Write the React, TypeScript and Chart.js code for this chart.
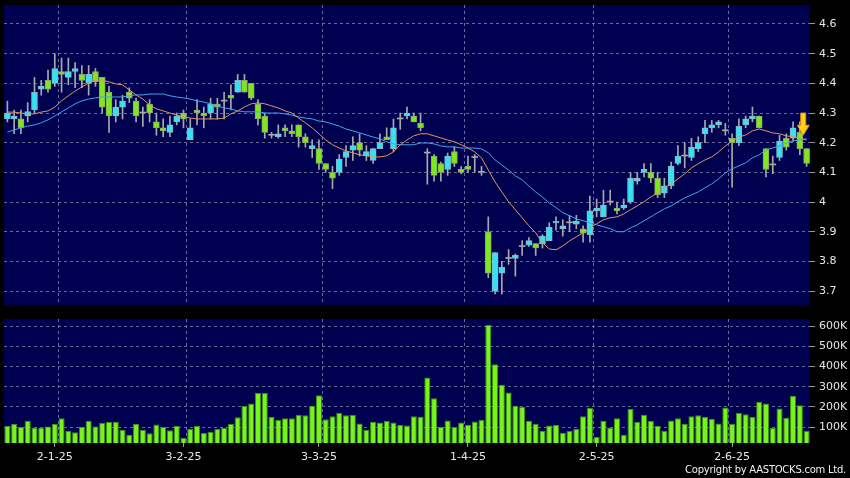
import React, { useEffect, useRef } from "react";
import { Chart, registerables } from "chart.js";
Chart.register(...registerables);

// ---- data ----
const openP = [4.28,4.28,4.28,4.29,4.31,4.38,4.41,4.40,4.44,4.42,4.44,4.43,4.40,4.44,4.42,4.37,4.29,4.32,4.37,4.34,4.30,4.33,4.27,4.25,4.235,4.27,4.30,4.21,4.31,4.30,4.30,4.33,4.34,4.36,4.37,4.41,4.40,4.33,4.29,4.225,4.22,4.25,4.24,4.26,4.22,4.18,4.18,4.13,4.10,4.10,4.15,4.175,4.20,4.155,4.14,4.18,4.22,4.18,4.28,4.29,4.29,4.265,4.165,4.155,4.13,4.11,4.17,4.11,4.12,4.15,4.10,3.90,3.70,3.76,3.81,3.81,3.85,3.855,3.86,3.86,3.87,3.93,3.91,3.93,3.925,3.91,3.89,3.97,3.95,4.00,3.98,3.98,4.00,4.07,4.10,4.10,4.08,4.03,4.055,4.13,4.155,4.15,4.18,4.23,4.25,4.26,4.24,4.215,4.20,4.26,4.28,4.29,4.18,4.125,4.15,4.215,4.215,4.235,4.18];
const highP = [4.34,4.31,4.31,4.335,4.42,4.41,4.445,4.50,4.485,4.485,4.47,4.46,4.46,4.45,4.42,4.39,4.345,4.36,4.385,4.35,4.32,4.345,4.30,4.28,4.29,4.30,4.31,4.28,4.345,4.32,4.35,4.35,4.37,4.395,4.43,4.43,4.40,4.345,4.30,4.235,4.26,4.26,4.26,4.26,4.23,4.21,4.21,4.13,4.12,4.16,4.19,4.22,4.23,4.19,4.18,4.23,4.25,4.28,4.30,4.32,4.30,4.30,4.18,4.16,4.135,4.165,4.185,4.12,4.155,4.16,4.12,3.95,3.83,3.80,3.84,3.825,3.87,3.88,3.86,3.89,3.93,3.95,3.94,3.955,3.955,3.92,4.02,4.01,4.04,4.04,4.00,4.01,4.10,4.10,4.13,4.13,4.10,4.08,4.135,4.19,4.20,4.215,4.22,4.275,4.275,4.275,4.265,4.23,4.28,4.29,4.32,4.29,4.18,4.155,4.225,4.23,4.27,4.27,4.18];
const lowP = [4.27,4.23,4.23,4.27,4.30,4.36,4.37,4.39,4.37,4.395,4.385,4.385,4.36,4.39,4.30,4.235,4.27,4.28,4.335,4.27,4.255,4.27,4.225,4.22,4.22,4.26,4.25,4.21,4.26,4.25,4.28,4.28,4.28,4.31,4.37,4.37,4.345,4.26,4.215,4.215,4.215,4.22,4.22,4.185,4.185,4.15,4.11,4.10,4.045,4.09,4.12,4.14,4.155,4.14,4.13,4.18,4.21,4.17,4.245,4.28,4.27,4.24,4.06,4.07,4.07,4.09,4.12,4.095,4.10,4.10,4.09,3.745,3.69,3.69,3.79,3.75,3.82,3.85,3.82,3.845,3.87,3.905,3.885,3.90,3.91,3.865,3.865,3.95,3.95,3.99,3.96,3.975,3.995,4.06,4.085,4.065,4.015,4.015,4.045,4.125,4.115,4.14,4.17,4.20,4.235,4.25,4.225,4.05,4.19,4.25,4.27,4.25,4.085,4.095,4.14,4.175,4.205,4.16,4.12];
const closeP = [4.30,4.29,4.25,4.305,4.37,4.39,4.38,4.45,4.43,4.44,4.45,4.41,4.43,4.405,4.32,4.29,4.32,4.34,4.35,4.29,4.30,4.30,4.25,4.24,4.26,4.29,4.28,4.25,4.30,4.29,4.33,4.32,4.34,4.35,4.41,4.37,4.35,4.28,4.235,4.225,4.23,4.24,4.23,4.22,4.20,4.19,4.13,4.11,4.08,4.145,4.17,4.19,4.175,4.17,4.18,4.20,4.21,4.25,4.28,4.30,4.27,4.25,4.165,4.09,4.10,4.155,4.13,4.10,4.11,4.15,4.10,3.76,3.83,3.78,3.81,3.82,3.85,3.87,3.845,3.885,3.915,3.935,3.92,3.93,3.935,3.895,3.97,3.98,3.99,4.00,3.97,3.99,4.08,4.08,4.11,4.08,4.025,4.055,4.12,4.155,4.155,4.185,4.20,4.25,4.26,4.27,4.24,4.20,4.255,4.28,4.29,4.25,4.11,4.125,4.205,4.185,4.25,4.18,4.13];
const maFast = [4.303,4.303,4.300,4.297,4.297,4.303,4.307,4.320,4.341,4.358,4.374,4.388,4.401,4.411,4.411,4.405,4.398,4.395,4.378,4.361,4.347,4.327,4.314,4.307,4.300,4.293,4.287,4.283,4.280,4.280,4.280,4.280,4.283,4.297,4.307,4.320,4.331,4.334,4.331,4.324,4.317,4.307,4.300,4.283,4.267,4.250,4.230,4.209,4.193,4.182,4.172,4.166,4.159,4.156,4.152,4.152,4.156,4.169,4.193,4.209,4.223,4.230,4.230,4.223,4.216,4.209,4.203,4.193,4.182,4.169,4.149,4.108,4.068,4.034,4.001,3.974,3.947,3.920,3.896,3.863,3.842,3.839,3.852,3.869,3.883,3.896,3.913,3.927,3.940,3.947,3.950,3.960,3.974,3.987,4.001,4.017,4.031,4.048,4.061,4.078,4.095,4.115,4.129,4.142,4.152,4.169,4.189,4.206,4.219,4.226,4.240,4.246,4.240,4.233,4.230,4.223,4.220,4.216,4.209];
const maSlow = [4.236,4.243,4.250,4.256,4.260,4.267,4.277,4.290,4.304,4.317,4.331,4.341,4.347,4.351,4.354,4.354,4.354,4.354,4.358,4.361,4.361,4.364,4.364,4.364,4.358,4.354,4.351,4.347,4.341,4.337,4.331,4.324,4.317,4.314,4.307,4.304,4.304,4.304,4.300,4.300,4.300,4.297,4.293,4.287,4.283,4.280,4.273,4.270,4.263,4.256,4.246,4.240,4.233,4.226,4.219,4.213,4.203,4.196,4.193,4.193,4.193,4.199,4.199,4.196,4.189,4.186,4.186,4.182,4.182,4.182,4.179,4.166,4.142,4.125,4.108,4.088,4.075,4.054,4.034,4.017,3.997,3.981,3.964,3.954,3.943,3.937,3.930,3.923,3.917,3.910,3.900,3.900,3.913,3.923,3.937,3.950,3.964,3.977,3.987,4.001,4.014,4.024,4.034,4.048,4.061,4.078,4.098,4.112,4.122,4.132,4.149,4.159,4.176,4.182,4.189,4.199,4.206,4.209,4.213];
const volumeK = [107,116,100,131,98,98,103,115,143,82,74,102,131,103,120,125,126,85,62,116,85,69,112,100,84,107,47,92,105,70,77,90,95,115,148,204,217,269,269,151,135,144,143,161,158,205,258,138,154,171,158,160,118,87,126,123,130,123,110,108,153,151,345,243,100,133,100,123,110,128,135,605,411,309,271,205,200,131,116,82,108,110,72,80,90,154,194,51,131,98,143,62,189,125,161,130,107,82,133,144,116,153,158,150,140,118,197,116,169,163,150,225,217,95,192,146,255,208,82];
const priceTicks = [3.7, 3.8, 3.9, 4.0, 4.1, 4.2, 4.3, 4.4, 4.5, 4.6];
const volumeTicksK = [100, 200, 300, 400, 500, 600];
const dateTickIndex = [7, 26, 46, 68, 87, 107];
const dateTickLabels = ["2-1-25", "3-2-25", "3-3-25", "1-4-25", "2-5-25", "2-6-25"];
const monthGridIndex = [8, 27, 47, 68, 87, 107];
const arrowBarIndex = 117;
const arrowTopPrice = 4.30;
const arrowTipPrice = 4.225;

const NAVY = "#000050";
const GRID = "rgba(140,140,175,0.75)";
const UP = "#33e3f2";
const DOWN = "#80e620";
const WICK = "#a8a8a8";
const TXT = "#e6e6e6";
const FONT = { family: "DejaVu Sans", size: 11 };

const labels = openP.map((_, i) => String(i));

const bgPlugin = {
  id: "navyBg",
  beforeDraw(chart: any) {
    const { ctx, chartArea: a } = chart;
    ctx.save();
    ctx.fillStyle = NAVY;
    ctx.fillRect(a.left, a.top, a.width, a.height);
    ctx.restore();
  },
};

const arrowPlugin = {
  id: "arrow",
  afterDatasetsDraw(chart: any) {
    const { ctx } = chart;
    const xs = chart.scales.x;
    const ys = chart.scales.y;
    const cx = (xs.getPixelForValue(arrowBarIndex) + xs.getPixelForValue(arrowBarIndex + 1)) / 2;
    const top = ys.getPixelForValue(arrowTopPrice);
    const tip = ys.getPixelForValue(arrowTipPrice);
    const headH = (tip - top) * 0.45;
    ctx.save();
    ctx.beginPath();
    ctx.moveTo(cx - 2.5, top);
    ctx.lineTo(cx + 2.5, top);
    ctx.lineTo(cx + 2.5, tip - headH);
    ctx.lineTo(cx + 6, tip - headH);
    ctx.lineTo(cx, tip);
    ctx.lineTo(cx - 6, tip - headH);
    ctx.lineTo(cx - 2.5, tip - headH);
    ctx.closePath();
    ctx.fillStyle = "#ffd21a";
    ctx.fill();
    ctx.strokeStyle = "#e08a00";
    ctx.lineWidth = 1;
    ctx.stroke();
    ctx.restore();
  },
};

const zeroPad = (ax: any) => {
  ax.paddingTop = 0;
  ax.paddingBottom = 0;
  ax.paddingLeft = 0;
  ax.paddingRight = 0;
};

function gridX() {
  return {
    offset: true,
    grid: {
      offset: true,
      drawTicks: false,
      color: (c: any) => (monthGridIndex.includes(c.index) ? GRID : "transparent"),
    },
    ticks: { display: false, autoSkip: false },
    border: { display: false, dash: [3, 3] },
    afterFit: (ax: any) => { ax.height = 0; zeroPad(ax); },
  };
}

export default function App() {
  const priceRef = useRef<HTMLCanvasElement>(null);
  const volRef = useRef<HTMLCanvasElement>(null);

  useEffect(() => {
    const isUp = (i: number) => closeP[i] > openP[i];
    const isDoji = (i: number) => closeP[i] === openP[i];
    const price = new Chart(priceRef.current!, {
      type: "bar",
      data: {
        labels,
        datasets: [
          { type: "line", data: maFast, borderColor: "#e3955f", borderWidth: 1, pointRadius: 0, order: 0 } as any,
          { type: "line", data: maSlow, borderColor: "#3fa6ee", borderWidth: 1, pointRadius: 0, order: 1 } as any,
          {
            data: lowP.map((l, i) => [l, highP[i]]),
            backgroundColor: WICK,
            barThickness: 1,
            grouped: false,
            order: 3,
          } as any,
          {
            data: openP.map((o, i) => [Math.min(o, closeP[i]), Math.max(o, closeP[i])]),
            backgroundColor: (c: any) => (isDoji(c.dataIndex) ? WICK : isUp(c.dataIndex) ? UP : DOWN),
            borderColor: (c: any) => (isUp(c.dataIndex) ? "#86b8c8" : "#8aa868"),
            borderWidth: (c: any) => (isDoji(c.dataIndex) ? 0 : 1),
            borderSkipped: false,
            barThickness: 6,
            minBarLength: 1,
            grouped: false,
            order: 2,
          } as any,
        ],
      },
      options: {
        animation: false,
        responsive: false,
        events: [],
        layout: { padding: { left: 4, right: 0, top: 5, bottom: 7 } },
        plugins: { legend: { display: false }, tooltip: { enabled: false } },
        scales: {
          x: gridX() as any,
          y: {
            position: "right",
            min: 3.653,
            max: 4.664,
            afterBuildTicks: (ax: any) => { ax.ticks = priceTicks.map((v) => ({ value: v })); },
            afterFit: (ax: any) => { ax.width = 40; zeroPad(ax); },
            ticks: { color: TXT, font: FONT, padding: 4, callback: (v: any) => String(Math.round(Number(v) * 10) / 10) },
            grid: { color: GRID, drawTicks: true, tickLength: 5, tickColor: "#9a9a9a", tickWidth: 1 },
            border: { display: false, dash: [3, 3] },
          } as any,
        },
      },
      plugins: [bgPlugin, arrowPlugin],
    });

    const vol = new Chart(volRef.current!, {
      type: "bar",
      data: {
        labels,
        datasets: [
          {
            data: volumeK,
            backgroundColor: "#77f51a",
            borderColor: "#3f8f12",
            borderWidth: 1,
            borderSkipped: false,
            categoryPercentage: 1,
            barPercentage: 0.9,
          } as any,
        ],
      },
      options: {
        animation: false,
        responsive: false,
        events: [],
        layout: { padding: { left: 4, right: 0, top: 7, bottom: 0 } },
        plugins: { legend: { display: false }, tooltip: { enabled: false } },
        scales: {
          x: gridX() as any,
          x2: {
            type: "category",
            labels,
            position: "bottom",
            offset: true,
            grid: {
              offset: false,
              drawOnChartArea: false,
              drawTicks: true,
              tickLength: 4,
              tickColor: (c: any) => (dateTickIndex.includes(c.index) ? "#9a9a9a" : "transparent"),
            },
            ticks: {
              autoSkip: false,
              maxRotation: 0,
              color: TXT,
              font: FONT,
              padding: 4,
              callback: (_v: any, i: number) => {
                const k = dateTickIndex.indexOf(i);
                return k >= 0 ? dateTickLabels[k] : "";
              },
            },
            border: { display: false },
            afterFit: (ax: any) => { ax.height = 35; zeroPad(ax); },
          } as any,
          y: {
            position: "right",
            min: 21,
            max: 635,
            afterBuildTicks: (ax: any) => { ax.ticks = volumeTicksK.map((v) => ({ value: v })); },
            afterFit: (ax: any) => { ax.width = 40; zeroPad(ax); },
            ticks: { color: TXT, font: FONT, padding: 4, callback: (v: any) => `${v}K` },
            grid: { color: GRID, drawTicks: true, tickLength: 5, tickColor: "#9a9a9a", tickWidth: 1 },
            border: { display: false, dash: [3, 3] },
          } as any,
        },
      },
      plugins: [bgPlugin],
    });

    return () => {
      price.destroy();
      vol.destroy();
    };
  }, []);

  return (
    <div style={{ position: "absolute", left: 0, top: 0, width: 850, height: 478, background: "#000", overflow: "hidden" }}>
      <canvas ref={priceRef} width={850} height={312} style={{ position: "absolute", left: 0, top: 0, width: 850, height: 312 }} />
      <canvas ref={volRef} width={850} height={166} style={{ position: "absolute", left: 0, top: 312, width: 850, height: 166 }} />
      <div
        style={{
          position: "absolute",
          right: 4,
          top: 463,
          color: "#f0f0f0",
          fontFamily: "DejaVu Sans",
          fontSize: 10,
          letterSpacing: "-0.25px",
          lineHeight: "14px",
          whiteSpace: "nowrap",
        }}
      >
        Copyright by AASTOCKS.com Ltd.
      </div>
    </div>
  );
}
